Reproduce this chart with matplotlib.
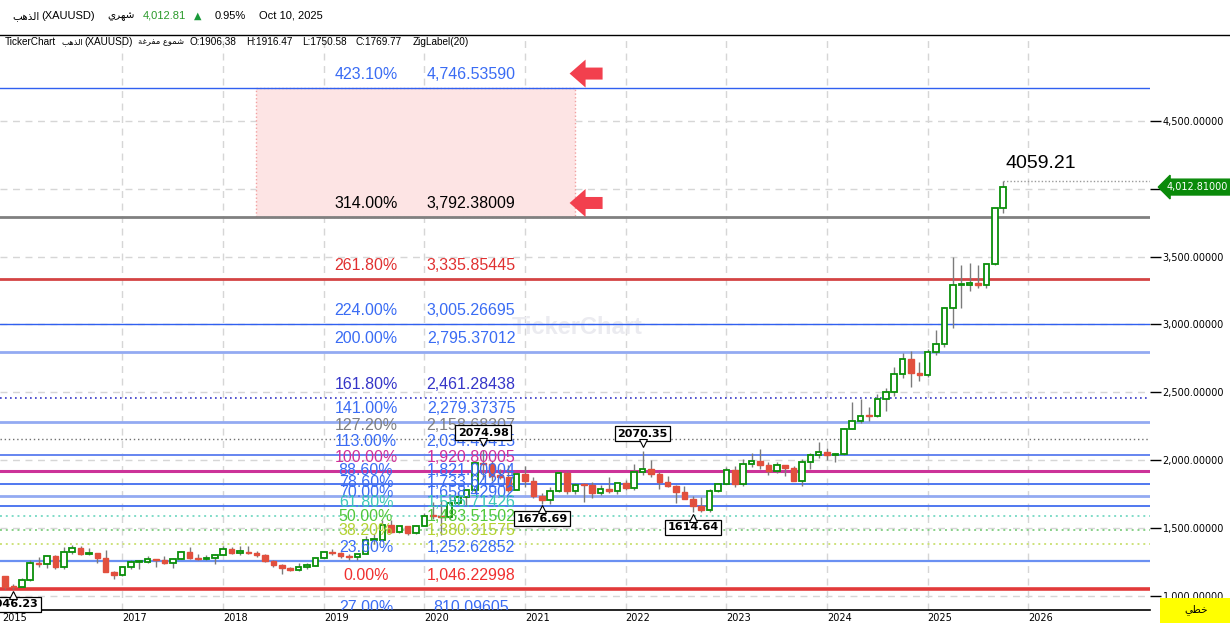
import matplotlib
matplotlib.use('Agg')
import matplotlib.pyplot as plt
import matplotlib.transforms as mtransforms
from matplotlib.patches import Rectangle, Polygon
from matplotlib.lines import Line2D
import numpy as np
import pandas as pd

# ---- datos: velas mensuales XAUUSD (nov 2015 - oct 2025) ----
months = pd.date_range('2015-11-01', periods=120, freq='MS')
opens = [1141.6, 1064.9,
         1061.0, 1116.9, 1237.7, 1232.4, 1292.6, 1214.9, 1321.9, 1351.0, 1309.0, 1315.8, 1276.8, 1173.4,
         1152.0, 1210.5, 1248.7, 1249.0, 1268.1, 1266.0, 1242.3, 1269.4, 1322.1, 1280.0, 1270.9, 1275.0,
         1303.0, 1345.2, 1318.4, 1324.7, 1315.4, 1298.5, 1252.9, 1224.2, 1201.0, 1192.2, 1215.0, 1221.6,
         1281.3, 1321.0, 1312.8, 1292.3, 1283.4, 1305.6, 1409.0, 1413.7, 1520.0, 1472.5, 1513.0, 1463.8,
         1517.0, 1589.1, 1585.0, 1577.2, 1686.5, 1730.0, 1781.0, 1975.9, 1968.0, 1886.0, 1878.8, 1776.6,
         1898.0, 1847.6, 1734.0, 1707.7, 1769.1, 1906.38, 1769.8, 1814.2, 1813.6, 1757.3, 1783.4, 1774.0,
         1829.2, 1796.7, 1909.2, 1937.1, 1896.6, 1837.3, 1807.3, 1766.0, 1711.5, 1660.5, 1633.6, 1768.8,
         1824.0, 1928.0, 1826.8, 1969.3, 1990.0, 1962.5, 1919.3, 1965.0, 1940.2, 1848.6, 1983.2, 2036.0,
         2063.0, 2039.5, 2044.0, 2229.9, 2286.3, 2327.3, 2326.6, 2447.6, 2503.4, 2634.6, 2743.9, 2643.1,
         2624.5, 2798.4, 2857.8, 3123.5, 3288.6, 3289.0, 3303.1, 3290.0, 3448.0, 3858.9]
highs = [1142.8, 1088.1,
         1127.9, 1263.1, 1282.6, 1303.8, 1303.6, 1358.5, 1375.1, 1366.9, 1352.8, 1318.5, 1337.4, 1181.2,
         1220.2, 1264.0, 1261.9, 1295.5, 1270.6, 1296.2, 1274.9, 1331.9, 1357.6, 1306.1, 1299.6, 1309.0,
         1366.1, 1361.5, 1365.3, 1365.3, 1326.0, 1309.5, 1265.8, 1237.0, 1214.0, 1243.5, 1237.5, 1284.8,
         1326.3, 1346.8, 1324.4, 1304.0, 1306.0, 1438.8, 1452.9, 1555.1, 1557.0, 1517.0, 1516.0, 1524.0,
         1611.4, 1689.3, 1703.4, 1747.8, 1765.0, 1789.1, 1984.0, 2074.98, 1992.4, 1933.3, 1965.6, 1906.9,
         1959.3, 1871.7, 1755.7, 1798.0, 1912.9, 1916.47, 1832.5, 1834.0, 1836.9, 1814.0, 1877.2, 1831.0,
         1853.9, 1974.4, 2070.35, 1998.4, 1909.8, 1879.3, 1814.4, 1808.0, 1735.1, 1729.5, 1786.5, 1833.0,
         1949.3, 1959.8, 2009.8, 2048.7, 2079.5, 1985.3, 1987.5, 1966.0, 1953.0, 2009.4, 2052.2, 2135.4,
         2088.5, 2052.0, 2236.0, 2431.5, 2450.0, 2387.8, 2483.7, 2531.7, 2685.6, 2790.1, 2801.8, 2726.2,
         2817.2, 2956.2, 3128.0, 3500.1, 3435.0, 3451.4, 3439.0, 3453.0, 3850.0, 4059.21]
lows = [1052.5, 1046.23,
        1061.0, 1107.0, 1208.4, 1207.9, 1199.5, 1199.1, 1310.6, 1300.9, 1302.1, 1241.3, 1171.3, 1122.9,
        1146.8, 1200.4, 1194.6, 1241.0, 1214.1, 1236.4, 1204.9, 1267.0, 1271.0, 1260.2, 1264.5, 1236.0,
        1302.7, 1307.1, 1303.6, 1309.9, 1281.9, 1245.9, 1211.0, 1160.3, 1180.6, 1182.3, 1196.2, 1221.4,
        1276.0, 1302.9, 1280.7, 1266.2, 1266.1, 1311.0, 1381.0, 1400.3, 1459.0, 1459.0, 1445.6, 1454.9,
        1517.0, 1563.1, 1451.1, 1567.6, 1670.6, 1670.7, 1757.1, 1863.2, 1848.8, 1859.9, 1764.5, 1775.7,
        1802.6, 1717.2, 1676.69, 1677.4, 1766.3, 1750.58, 1750.8, 1687.8, 1721.7, 1746.0, 1758.8, 1753.0,
        1780.4, 1780.0, 1890.0, 1872.0, 1786.9, 1805.1, 1680.9, 1709.7, 1614.64, 1617.3, 1616.7, 1765.1,
        1823.0, 1804.8, 1809.5, 1949.8, 1932.2, 1893.1, 1902.8, 1884.9, 1846.0, 1810.5, 1931.7, 2016.2,
        2001.9, 1984.2, 2039.5, 2228.0, 2277.0, 2286.8, 2318.7, 2364.3, 2471.8, 2603.6, 2536.7, 2583.4,
        2614.4, 2772.0, 2832.8, 2970.4, 3120.9, 3246.9, 3268.0, 3268.0, 3436.0, 3819.0]
closes = [1064.9, 1061.0,
          1116.9, 1237.7, 1232.4, 1292.6, 1214.9, 1321.9, 1351.0, 1309.0, 1315.8, 1276.8, 1173.4, 1152.0,
          1210.5, 1248.7, 1249.0, 1268.1, 1266.0, 1242.3, 1269.4, 1322.1, 1280.0, 1270.9, 1275.0, 1303.0,
          1345.2, 1318.4, 1324.7, 1315.4, 1298.5, 1252.9, 1224.2, 1201.0, 1192.2, 1215.0, 1221.6, 1281.3,
          1321.0, 1312.8, 1292.3, 1283.4, 1305.6, 1409.0, 1413.7, 1520.0, 1472.5, 1513.0, 1463.8, 1517.0,
          1589.1, 1585.0, 1577.2, 1686.5, 1730.0, 1781.0, 1975.9, 1968.0, 1886.0, 1878.8, 1776.6, 1898.0,
          1847.6, 1734.0, 1707.7, 1769.1, 1906.38, 1769.77, 1814.2, 1813.6, 1757.3, 1783.4, 1774.0, 1829.2,
          1796.7, 1909.2, 1937.1, 1896.6, 1837.3, 1807.3, 1766.0, 1711.5, 1660.5, 1633.6, 1768.8, 1824.0,
          1928.0, 1826.8, 1969.3, 1990.0, 1962.5, 1919.3, 1965.0, 1940.2, 1848.6, 1983.2, 2036.0, 2063.0,
          2039.5, 2044.0, 2229.9, 2286.3, 2327.3, 2326.6, 2447.6, 2503.4, 2634.6, 2743.9, 2643.1, 2624.5,
          2798.4, 2857.8, 3123.5, 3288.6, 3289.0, 3303.1, 3290.0, 3448.0, 3858.9, 4012.81]

# niveles de extension de Fibonacci
fib_pcts = [423.1, 314.0, 261.8, 224.0, 200.0, 161.8, 141.0, 127.2, 113.0, 100.0,
            88.6, 78.6, 70.0, 61.8, 50.0, 38.2, 23.6, 0.0, -27.0]
fib_prices = [4746.53590, 3792.38009, 3335.85445, 3005.26695, 2795.37012, 2461.28438,
              2279.37375, 2158.68307, 2034.49415, 1920.80005, 1821.00004, 1733.64207,
              1658.42902, 1586.71426, 1483.51502, 1380.31575, 1252.62852, 1046.22998, 810.09605]

# puntos del ZigLabel
zig_months = ['2015-12', '2020-08', '2021-03', '2022-03', '2022-09']
zig_kind = ['low', 'high', 'low', 'high', 'low']

last_price = 4012.81
price_ticks = [1000, 1500, 2000, 2500, 3000, 3500, 4000, 4500]

# ---- estilos ----
BLUE, LBLUE = '#3a6cf4', '#93aaf2'
fib_line_color = ['#3060f0', '#808080', '#d44444', '#3060f0', LBLUE, '#3535c8', LBLUE, '#707070',
                  '#6585f0', '#cc3399', '#5078f0', LBLUE, '#5078f0', '#80dcc8', '#88d088',
                  '#cde27a', '#6a90f2', '#e23a3a', BLUE]
fib_line_width = [1, 2, 2, 1, 2, 1.2, 2, 1, 1.4, 2.2, 1.4, 2, 1.4, 1.4, 1.4, 1.4, 1.6, 2.6, 1]
dot = (0, (1, 2))
fib_line_style = ['-', '-', '-', '-', '-', dot, '-', dot, '-', '-', '-', '-', '-', dot, dot, dot,
                  '-', '-', '-']
fib_text_color = [BLUE, 'black', '#e03030', BLUE, BLUE, '#3535c8', BLUE, '#808080', BLUE, '#d0309a',
                  BLUE, BLUE, BLUE, '#3ec8b8', '#52c83c', '#b4d232', BLUE, '#f03030', BLUE]

zone_x = (29.9, 67.9)  # rectangulo rosa (en indices de mes)

W, H = 1230, 623
def fx(px):
    return px / W
def fy(py):
    return 1 - py / H

plt.rcParams['font.family'] = ['Liberation Sans', 'DejaVu Sans']

fig = plt.figure(figsize=(W / 100, H / 100), dpi=100)
ax = fig.add_axes([0, fy(610), fx(1150), (610 - 36) / H])

o = np.array(opens); h = np.array(highs); l = np.array(lows); c = np.array(closes)
xs = np.arange(len(months))
up = c >= o

# velas
ax.vlines(xs, l, h, color='#7b7b7b', lw=1, zorder=3)
bottom = np.minimum(o, c)
height = np.maximum(np.abs(c - o), 8)
ax.bar(xs[up], height[up], bottom=bottom[up], width=0.66, facecolor='white',
       edgecolor='#0a8f0a', linewidth=1.3, zorder=4)
ax.bar(xs[~up], height[~up], bottom=bottom[~up], width=0.66, facecolor='#e2503e',
       edgecolor='#e2503e', linewidth=1, zorder=4)

ax.set_xlim(-0.6, 136.5)
ax.set_ylim(894.6, 5126.7)

# zona rosa
ax.add_patch(Rectangle((zone_x[0], fib_prices[1]), zone_x[1] - zone_x[0],
                       fib_prices[0] - fib_prices[1], facecolor='#fde4e4',
                       edgecolor='#f2a0a0', ls=':', lw=1, zorder=1))

# lineas y etiquetas Fibonacci
blend = mtransforms.blended_transform_factory(ax.transAxes, ax.transData)
lab_trans = mtransforms.offset_copy(blend, fig=fig, y=13.5, units='dots')
for p, v, lc, lw, ls, tc in zip(fib_pcts, fib_prices, fib_line_color, fib_line_width,
                                fib_line_style, fib_text_color):
    ax.axhline(v, color=lc, lw=lw, ls=ls, zorder=2)
    ax.text(366 / 1150, v, f'{abs(p):.2f}%', transform=lab_trans, ha='center', va='center',
            fontsize=11.5, color=tc, clip_on=True, zorder=6)
    ax.text(471 / 1150, v, f'{v:,.5f}', transform=lab_trans, ha='center', va='center',
            fontsize=11.5, color=tc, clip_on=True, zorder=6)

# flechas rojas
arrow_px = np.array([(0, 0), (16, 14), (16, 6), (33, 6), (33, -6), (16, -6), (16, -14)], float)
arrow_px += (-5, 14)
for v in fib_prices[:2]:
    tr = fig.dpi_scale_trans + mtransforms.ScaledTranslation(zone_x[1], v, ax.transData)
    ax.add_patch(Polygon(arrow_px / 100, closed=True, transform=tr, facecolor='#f2404e',
                         edgecolor='none', zorder=6, clip_on=False))

# etiquetas ZigLabel
for m, kind in zip(zig_months, zig_kind):
    i = months.get_loc(pd.Timestamp(m + '-01'))
    val = h[i] if kind == 'high' else l[i]
    off = 17 if kind == 'high' else -15
    ax.annotate(f'{val:.2f}', xy=(i, val), xytext=(0, off), textcoords='offset pixels',
                ha='center', va='center', fontsize=8, fontweight='bold', family='DejaVu Sans',
                bbox=dict(boxstyle='square,pad=0.22', fc='white', ec='black', lw=0.9),
                zorder=7, annotation_clip=False)
    moff = 7.5 if kind == 'high' else -5.5
    mt = mtransforms.offset_copy(ax.transData, fig=fig, y=moff, units='dots')
    ax.plot(i, val, marker='v' if kind == 'high' else '^', ms=6, mfc='white', mec='black',
            mew=0.8, transform=mt, zorder=8, clip_on=False)

# ultimo maximo
ax.hlines(h[-1], xs[-1], 136.5, color='#9a9a9a', ls=(0, (1, 1.5)), lw=1, zorder=2)
ax.annotate(f'{h[-1]:.2f}', xy=(xs[-1], h[-1]), xytext=(2, 17), textcoords='offset pixels',
            ha='left', va='center', fontsize=14, zorder=7)

# etiqueta de precio actual
tag_tr = mtransforms.blended_transform_factory(fig.transFigure, ax.transData)
ax.text(fx(1167), last_price, f'{last_price:,.5f}', transform=tag_tr, ha='left', va='center',
        fontsize=7, color='white', family='DejaVu Sans', clip_on=False, zorder=9,
        bbox=dict(boxstyle='larrow,pad=0.3', fc='#0a8a0a', ec='#0a8a0a'))

# ejes
ax.yaxis.tick_right()
ax.set_yticks(price_ticks)
ax.set_yticklabels(['' if v == 4000 else f'{v:,.5f}' for v in price_ticks], family='DejaVu Sans')
ax.tick_params(axis='y', length=8, width=1, color='black', pad=1, labelsize=7)

axis_months = pd.date_range('2015-11-01', periods=137, freq='MS')
tick_pos = [-0.3] + [i for i, d in enumerate(axis_months)
                     if d.month == 1 and 2017 <= d.year <= 2026]
tick_lab = ['2015'] + [str(axis_months[i].year) for i in tick_pos[1:]]
ax.set_xticks(tick_pos)
ax.set_xticklabels(tick_lab, family='DejaVu Sans', ha='left')
ax.tick_params(axis='x', length=0, pad=2, labelsize=7)

ax.grid(True, color='#d6d6d6', ls=(0, (5, 4)), lw=1, zorder=0.5)
ax.set_axisbelow(True)
ax.xaxis.get_gridlines()[0].set_visible(False)
for s in ['left', 'top', 'right']:
    ax.spines[s].set_visible(False)
ax.spines['bottom'].set_linewidth(1.2)

# marca de agua
ax.text(fx(512), fy(328), 'TickerChart', transform=fig.transFigure, fontsize=17,
        fontweight='bold', color='#ebebf0', va='center', ha='left', zorder=0.6)

# cabecera
ar_gold = '\uFE90\uFEEB\uFEAC\uFEDF\uFE8D'
ar_month = '\uFEF1\uFEAE\uFEEC\uFEB7'
ar_candles = '\uFE94\uFECF\uFEAE\uFED4\uFEE3 \uFEC9\uFEEE\uFEE4\uFEB7'
ar_linear = '\uFEF2\uFEC4\uFEA7'
ar_font = ['DejaVu Sans']

head = [(12, ar_gold, 'black', ar_font, 7.5), (41, '(XAUUSD)', 'black', None, 8),
        (107, ar_month, 'black', ar_font, 7.5), (143, '4,012.81', '#2a9a2a', None, 8),
        (194, '\u25B2', '#1a9a3a', ar_font, 7), (215, '0.95%', 'black', None, 8),
        (259, 'Oct 10, 2025', 'black', None, 8)]
for x, t, col, fam, fs in head:
    kw = {'family': fam} if fam else {}
    fig.text(fx(x), fy(16), t, fontsize=fs, color=col, va='center', **kw)

fig.add_artist(Line2D([0, 1], [fy(34.5)] * 2, transform=fig.transFigure, color='black', lw=1))

info = [(5, 'TickerChart', None), (62, ar_gold, ar_font), (84, '(XAUUSD)', None),
        (138, ar_candles, ar_font), (190, 'O:1906.38', None), (246, 'H:1916.47', None),
        (302, 'L:1750.58', None), (356, 'C:1769.77', None), (413, 'ZigLabel(20)', None)]
for x, t, fam in info:
    kw = {'family': fam} if fam else {}
    fig.text(fx(x), fy(42), t, fontsize=7.2 if fam is None else 6, color='black',
             va='center', **kw)

# caja amarilla
fig.add_artist(Rectangle((fx(1160), 0), fx(70), 25 / H, transform=fig.transFigure,
                         facecolor='#ffff00', edgecolor='none'))
fig.text(fx(1196), fy(610), ar_linear, fontsize=7.5, family='DejaVu Sans', ha='center',
         va='center')

fig.savefig('out.png', dpi=100)
